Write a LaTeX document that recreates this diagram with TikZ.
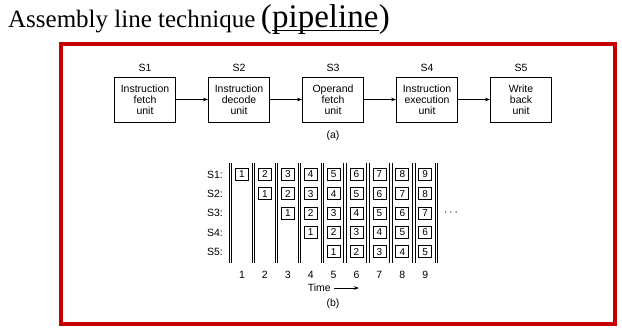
\documentclass[tikz,border=0pt]{standalone}
\usepackage{fontspec}
\setmainfont{Liberation Serif}
\newfontfamily\dsans{Liberation Sans}
\usetikzlibrary{arrows.meta}
\definecolor{framered}{RGB}{196,0,0}
\begin{document}
\begin{tikzpicture}[x=1pt,y=-1pt,
  titlebig/.style={anchor=base west, inner sep=0pt, font=\fontsize{33}{36}\selectfont},
  unitbox/.style={draw, line width=0.9pt, minimum width=61pt, minimum height=45pt, inner sep=0pt, align=center, font=\dsans\fontsize{10.5}{11}\selectfont},
  stagelab/.style={font=\dsans\fontsize{10.5}{12}\selectfont},
  flow/.style={-{Stealth[length=5pt,width=3.5pt]}, line width=0.6pt},
  numbox/.style={draw, line width=0.8pt, minimum width=13pt, minimum height=12pt, inner sep=0pt, font=\dsans\fontsize{10}{10}\selectfont},
  rowlab/.style={anchor=east, inner sep=0pt, font=\dsans\fontsize{10.5}{12}\selectfont},
  collab/.style={inner sep=0pt, font=\dsans\fontsize{10.5}{12}\selectfont},
  sepline/.style={line width=0.8pt}]
\useasboundingbox (0,0) rectangle (622,329);
% title
\node[anchor=base west, inner sep=0pt, font=\fontsize{25}{30}\selectfont] (tmain) at (8,28) {Assembly line technique};
\node[titlebig, xshift=5pt] (lpar) at (tmain.base east) {(};
\node[titlebig] (pipe) at (lpar.base east) {pipeline};
\node[titlebig] (rpar) at (pipe.base east) {)};
\draw[line width=1.8pt] ([yshift=-2.5pt]pipe.base west) -- ([yshift=-2.5pt]pipe.base east);
% frame
\draw[framered, line width=3.5pt] (61,44) rectangle (615,324);
% (a)
\foreach \i/\t [count=\k] in {1/{Instruction\\fetch\\unit},2/{Instruction\\decode\\unit},3/{Operand\\fetch\\unit},4/{Instruction\\execution\\unit},5/{Write\\back\\unit}}{
  \pgfmathsetmacro\bx{145+94*(\k-1)}
  \node[unitbox] (u\i) at (\bx,99.5) {\t};
  \node[stagelab] (s\i) at (\bx,68) {S\i};
}
\foreach \a/\b in {1/2,2/3,3/4,4/5}{\draw[flow] (u\a) -- (u\b);}
\node[stagelab] (capa) at (333,136) {(a)};
% (b)
\foreach \j in {0,...,9}{
  \pgfmathsetmacro\sx{230.5+22.9*\j}
  \draw[sepline] (\sx-1.2,163) -- (\sx-1.2,263);
  \draw[sepline] (\sx+1.2,163) -- (\sx+1.2,263);
}
\foreach \r in {1,...,5}{
  \pgfmathsetmacro\ry{174.5+19.3*(\r-1)}
  \node[rowlab] (rl\r) at (223,\ry) {S\r:};
  \foreach \c in {\r,...,9}{
    \pgfmathsetmacro\cx{242+22.9*(\c-1)}
    \pgfmathtruncatemacro\n{\c-\r+1}
    \node[numbox] (n\r-\c) at (\cx,\ry) {\n};
  }
}
\foreach \c in {1,...,9}{
  \pgfmathsetmacro\cx{242+22.9*(\c-1)}
  \node[collab] (t\c) at (\cx,275) {\c};
}
\node[collab, font=\fontsize{13}{14}\selectfont] (dots) at (451,213) {$\cdots$};
\node[collab, anchor=east] (time) at (331,288) {Time};
\coordinate (timeend) at (359,288);
\draw[flow] ([xshift=3pt]time.east) -- (timeend);
\node[collab] (capb) at (333,304) {(b)};
\end{tikzpicture}
\end{document}
